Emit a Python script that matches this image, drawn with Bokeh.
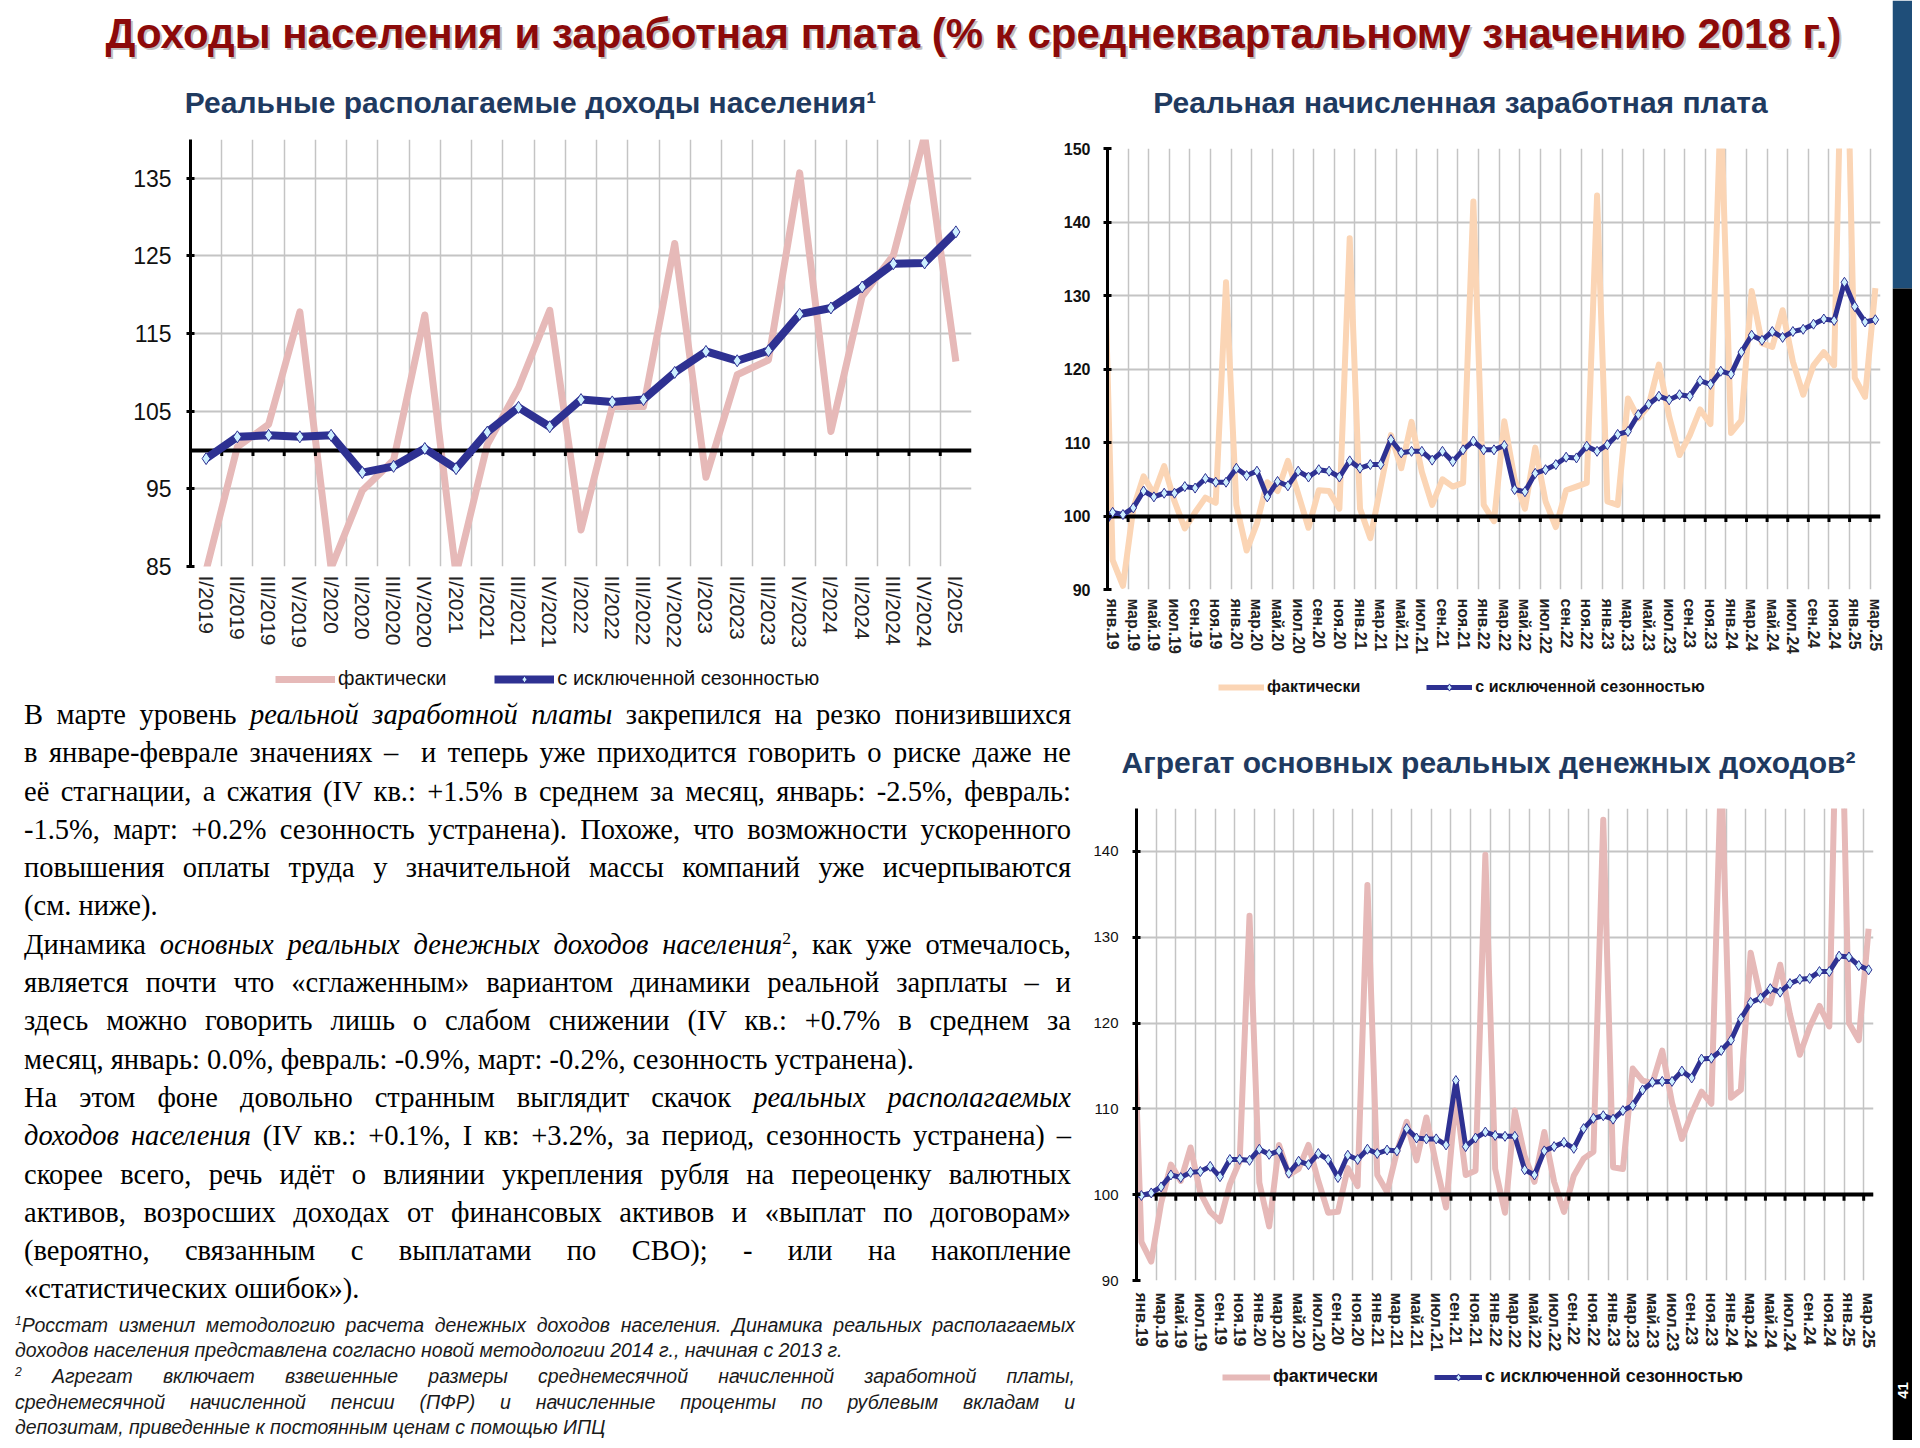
import math
from bokeh.plotting import figure
from bokeh.models import Range1d, FixedTicker, Legend, LegendItem, Div
from bokeh.layouts import row, column
from bokeh.embed import file_html
from bokeh.resources import INLINE
from bokeh.core.properties import value

SANS = "Liberation Sans"
SERIF = "Liberation Serif"

# ---------------- data ----------------
TITLE = "Доходы населения и заработная плата (% к среднеквартальному значению 2018 г.)"
T_LEFT = "Реальные располагаемые доходы населения¹"
T_RT = "Реальная начисленная заработная плата"
T_RB = "Агрегат основных реальных денежных доходов²"
LBL_ACT = "фактически"
LBL_SA = "с исключенной сезонностью"
BASE = 100

quarters = ["I/2019", "II/2019", "III/2019", "IV/2019", "I/2020", "II/2020", "III/2020", "IV/2020",
            "I/2021", "II/2021", "III/2021", "IV/2021", "I/2022", "II/2022", "III/2022", "IV/2022",
            "I/2023", "II/2023", "III/2023", "IV/2023", "I/2024", "II/2024", "III/2024", "IV/2024",
            "I/2025"]
rdi_actual = [84.5, 100.4, 103.3, 117.8, 84.8, 94.8, 98.7, 117.4, 84.0, 100.7, 108.0, 118.0, 89.7,
              105.6, 105.6, 126.6, 96.5, 109.7, 111.6, 135.7, 102.4, 119.8, 125.1, 140.5, 111.4]
rdi_sa = [98.9, 101.7, 101.9, 101.7, 101.9, 97.1, 97.9, 100.2, 97.6, 102.3, 105.5, 103.0, 106.5,
          106.2, 106.5, 110.0, 112.7, 111.5, 112.8, 117.5, 118.3, 121.0, 124.0, 124.1, 128.1]

month_labels = ["янв.19", "мар.19", "май.19", "июл.19", "сен.19", "ноя.19",
                "янв.20", "мар.20", "май.20", "июл.20", "сен.20", "ноя.20",
                "янв.21", "мар.21", "май.21", "июл.21", "сен.21", "ноя.21",
                "янв.22", "мар.22", "май.22", "июл.22", "сен.22", "ноя.22",
                "янв.23", "мар.23", "май.23", "июл.23", "сен.23", "ноя.23",
                "янв.24", "мар.24", "май.24", "июл.24", "сен.24", "ноя.24",
                "янв.25", "мар.25"]
N_MONTHS = 75          # янв.19 ... мар.25
FIRST_MONTH = -1       # series start with дек.18 (only the segment up to the axis is visible)

wage_actual = [146.0,
               94.0, 90.5, 101.0, 105.4, 103.0, 106.8, 102.0, 98.3, 100.5, 102.5, 101.8, 131.8,
               101.5, 95.3, 99.0, 104.6, 103.4, 107.5, 103.0, 98.4, 103.5, 103.4, 101.0, 137.8,
               101.0, 97.0, 104.0, 111.0, 106.5, 112.8, 106.0, 101.5, 105.0, 104.0, 104.5, 142.8,
               101.5, 99.3, 112.9, 105.0, 101.0, 109.3, 102.0, 98.5, 103.5, 104.0, 104.5, 143.6,
               102.0, 101.5, 116.0, 113.3, 115.0, 120.6, 113.5, 108.3, 111.0, 114.5, 112.5, 156.0,
               111.3, 113.0, 130.6, 123.5, 123.0, 128.0, 121.0, 116.5, 120.5, 122.3, 120.5, 182.0,
               118.8, 116.2, 131.0]
wage_sa = [98.4,
           100.5, 100.2, 101.1, 103.4, 102.6, 103.1, 103.1, 104.0, 103.8, 105.1, 104.6, 104.6,
           106.5, 105.5, 106.1, 102.6, 104.7, 104.1, 106.1, 105.3, 106.3, 106.1, 105.3, 107.5,
           106.5, 107.0, 107.0, 110.4, 108.6, 108.8, 108.8, 107.6, 108.8, 107.4, 109.0, 110.2,
           109.0, 109.0, 109.6, 103.6, 103.3, 105.8, 106.3, 107.0, 108.0, 107.9, 109.5, 108.8,
           109.7, 111.1, 111.5, 113.8, 115.2, 116.3, 115.8, 116.5, 116.3, 118.4, 117.9, 119.7,
           119.3, 122.3, 124.6, 123.9, 125.1, 124.3, 125.1, 125.4, 126.1, 126.8, 126.6, 131.8,
           128.5, 126.4, 126.7]
agg_actual = [128.0,
              94.5, 92.2, 99.0, 103.5, 101.6, 105.5, 100.2, 98.0, 96.9, 101.2, 103.9, 132.5,
              101.4, 96.3, 105.8, 102.3, 103.0, 105.8, 101.6, 97.9, 98.0, 103.1, 101.0, 136.1,
              102.3, 100.3, 105.0, 108.5, 104.0, 109.0, 103.5, 98.5, 111.5, 102.3, 102.8, 139.6,
              103.0, 97.9, 109.8, 104.5, 101.5, 107.3, 101.5, 98.0, 102.2, 104.2, 105.0, 143.7,
              103.2, 103.0, 114.7, 113.3, 113.0, 116.8, 110.7, 106.5, 109.5, 112.0, 110.6, 150.0,
              111.3, 112.2, 128.2, 123.0, 122.3, 126.8, 121.0, 116.3, 119.5, 122.0, 119.6, 172.0,
              120.0, 118.0, 131.0]
agg_sa = [100.0,
          99.9, 100.2, 100.9, 102.3, 102.0, 102.6, 102.7, 103.3, 102.1, 104.1, 104.1, 104.0,
          105.3, 104.7, 105.1, 102.5, 103.9, 103.5, 104.8, 104.1, 102.0, 104.6, 104.1, 105.3,
          104.8, 105.2, 105.1, 107.7, 106.6, 106.5, 106.5, 105.8, 113.3, 105.6, 106.6, 107.3,
          106.9, 106.8, 106.8, 102.9, 102.3, 105.1, 105.6, 106.1, 105.4, 107.7, 108.9, 109.2,
          108.8, 109.8, 110.4, 112.2, 113.1, 113.2, 113.2, 114.4, 113.6, 115.8, 115.9, 116.8,
          118.0, 120.5, 122.4, 122.9, 124.0, 123.6, 124.6, 125.1, 125.2, 126.0, 126.0, 127.8,
          127.7, 126.7, 126.2]

# ---------------- styles ----------------
BLUE = "#2E3192"
DIAMOND_FILL = "#CDEFFF"
PINK = "#E6B9B8"
PEACH = "#FBD5B5"
GRID = "#C4C4C4"
TITLE_RED = "#8C0A0A"
NAVY = "#1F3A60"


def no_align(p):
    try:
        p.frame_align = False
    except Exception:
        pass


def make_chart(w, h, borders, n_cat, y_lo, y_hi, y_ticks, grid_ticks, label_ticks, labels,
               xs, actual, sa, act_color, act_width, sa_width, diamond,
               ylab_size, ylab_style, ylab_standoff, xlab_size, xlab_style, xlab_standoff):
    left, right, top, bottom = borders
    p = figure(width=w, height=h, x_range=Range1d(0, n_cat), y_range=Range1d(y_lo, y_hi),
               min_border_left=left, min_border_right=right,
               min_border_top=top, min_border_bottom=bottom,
               output_backend="svg", toolbar_location=None, tools="")
    no_align(p)
    p.outline_line_color = None
    p.background_fill_color = "white"
    p.border_fill_color = "white"

    p.xgrid.ticker = FixedTicker(ticks=grid_ticks)
    p.xgrid.grid_line_color = GRID
    p.xgrid.grid_line_width = 1.5
    p.ygrid.ticker = FixedTicker(ticks=y_ticks)
    p.ygrid.grid_line_color = GRID
    p.ygrid.grid_line_width = 2

    ya = p.yaxis[0]
    ya.ticker = FixedTicker(ticks=y_ticks)
    ya.axis_line_color = "black"
    ya.axis_line_width = 3
    ya.major_tick_line_color = "black"
    ya.major_tick_line_width = 3
    ya.major_tick_in = 4
    ya.major_tick_out = 4
    ya.minor_tick_line_color = None
    ya.major_label_standoff = ylab_standoff
    ya.major_label_text_font = SANS
    ya.major_label_text_font_size = ylab_size
    ya.major_label_text_font_style = ylab_style
    ya.major_label_text_color = "#111111"

    xa = p.xaxis[0]
    xa.ticker = FixedTicker(ticks=label_ticks)
    xa.major_label_overrides = {t: s for t, s in zip(label_ticks, labels)}
    xa.major_label_orientation = "vertical"
    xa.axis_line_color = None
    xa.major_tick_line_color = None
    xa.minor_tick_line_color = None
    xa.major_tick_out = 0
    xa.major_tick_in = 0
    xa.major_label_standoff = xlab_standoff
    xa.major_label_text_font = SANS
    xa.major_label_text_font_size = xlab_size
    xa.major_label_text_font_style = xlab_style
    xa.major_label_text_color = "#222222"

    p.line(xs, actual, line_color=act_color, line_width=act_width, line_join="round")
    p.hspan(y=[BASE], line_color="black", line_width=4)
    frame_h = h - top - bottom
    d = 6.0 * (y_hi - y_lo) / frame_h
    p.segment(x0=grid_ticks, y0=[BASE] * len(grid_ticks), x1=grid_ticks,
              y1=[BASE - d] * len(grid_ticks), line_color="black", line_width=3)
    p.line(xs, sa, line_color=BLUE, line_width=sa_width, line_join="round")
    p.scatter(xs, sa, marker="diamond", size=diamond, fill_color=DIAMOND_FILL,
              line_color=BLUE, line_width=1)
    return p


def blank(w, h):
    p = figure(width=w, height=h, x_range=Range1d(0, w), y_range=Range1d(h, 0),
               x_axis_type=None, y_axis_type=None, min_border=0,
               output_backend="svg", toolbar_location=None, tools="")
    no_align(p)
    p.grid.visible = False
    p.outline_line_color = None
    p.background_fill_color = "white"
    p.border_fill_color = "white"
    return p


def legend_strip(w, h, act_color, act_width, sa_width, diamond, loc, size, style, glyph_w, spacing):
    """Legend of a chart, placed in its own strip under the chart's axis labels.
    The proxy renderers hold one point outside the strip so only the legend shows them."""
    p = blank(w, h)
    off = [-50, -40]
    act = p.line(x=off, y=off, line_color=act_color, line_width=act_width)
    sa_line = p.line(x=off, y=off, line_color=BLUE, line_width=sa_width)
    sa_pts = p.scatter(x=off[:1], y=off[:1], marker="diamond", size=diamond,
                       fill_color=DIAMOND_FILL, line_color=BLUE, line_width=1)
    leg = Legend(items=[LegendItem(label=LBL_ACT, renderers=[act]),
                        LegendItem(label=LBL_SA, renderers=[sa_line, sa_pts])],
                 location=loc, orientation="horizontal",
                 padding=0, margin=0, spacing=spacing, glyph_width=glyph_w,
                 glyph_height=18, label_height=18, label_standoff=3,
                 label_text_font=SANS, label_text_font_size=size,
                 label_text_font_style=style, label_text_color="#111111",
                 border_line_color=None, background_fill_alpha=0)
    p.add_layout(leg)
    return p


def put_text(p, x, y, s, size, color, style="bold", font=SANS, align="center", angle=0, alpha=1.0):
    p.text(x=[x], y=[y], text=[s], text_font=value(font), text_font_size=value(size),
           text_font_style=style, text_color=color, text_alpha=alpha, text_align=align,
           text_baseline="middle", angle=angle)


# ---------------- header ----------------
hdr = blank(1892, 130)
put_text(hdr, 975, 35, TITLE, "42px", "#777777", alpha=0.45)
put_text(hdr, 973, 33, TITLE, "42px", TITLE_RED)
put_text(hdr, 530, 102, T_LEFT, "30px", NAVY)
put_text(hdr, 1460, 102, T_RT, "30px", NAVY)

# ---------------- left chart (quarterly) ----------------
qx = [i + 0.5 for i in range(len(quarters))]
left_fig = make_chart(
    1060, 538, (190, 89, 9, 102), len(quarters), 85, 140, [85, 95, 105, 115, 125, 135],
    list(range(1, len(quarters))), qx, quarters,
    qx, rdi_actual, rdi_sa, PINK, 7, 8, 12,
    "23px", "normal", 15, "21px", "normal", 9)
left_leg = legend_strip(1060, 28, PINK, 7, 8, 12, (275, 6), "20px", "normal", 60, 48)

# ---------------- monthly charts ----------------
mx = [FIRST_MONTH + i + 0.5 for i in range(len(wage_sa))]
m_grid = list(range(2, N_MONTHS, 2))
m_lab_ticks = [2 * k + 0.5 for k in range(len(month_labels))]

rt_fig = make_chart(
    832, 542, (45, 12, 18, 83), N_MONTHS, 90, 150, [90, 100, 110, 120, 130, 140, 150],
    m_grid, m_lab_ticks, month_labels,
    mx, wage_actual, wage_sa, PEACH, 6, 5, 10,
    "16px", "bold", 13, "16px", "bold", 9)
rt_leg = legend_strip(832, 24, PEACH, 6, 5, 10, (158, 0), "16px", "bold", 46, 66)

rb_head = blank(802, 84)
put_text(rb_head, 398, 66, T_RB, "30px", NAVY)

rb_fig = make_chart(
    802, 584, (46, 19, 28, 84), N_MONTHS, 90, 145, [90, 100, 110, 120, 130, 140],
    m_grid, m_lab_ticks, month_labels,
    mx, agg_actual, agg_sa, PINK, 6, 5, 10,
    "15px", "normal", 14, "17px", "bold", 12)
rb_leg = legend_strip(802, 76, PINK, 6, 5, 10, (132, 53), "18px", "bold", 48, 56)

# ---------------- text block ----------------
SUP = "<sup style='font-size:0.62em;line-height:0'>{}</sup>"
body = [
    ("В марте уровень <i>реальной заработной платы</i> закрепился на резко понизившихся", True),
    ("в январе-феврале значениях –&nbsp; и теперь уже приходится говорить о риске даже не", True),
    ("её стагнации, а сжатия (IV кв.: +1.5% в среднем за месяц, январь: -2.5%, февраль:", True),
    ("-1.5%, март: +0.2% сезонность устранена). Похоже, что возможности ускоренного", True),
    ("повышения оплаты труда у значительной массы компаний уже исчерпываются", True),
    ("(см. ниже).", False),
    ("Динамика <i>основных реальных денежных доходов населения</i>" + SUP.format(2) + ", как уже отмечалось,", True),
    ("является почти что «сглаженным» вариантом динамики реальной зарплаты – и", True),
    ("здесь можно говорить лишь о слабом снижении (IV кв.: +0.7% в среднем за", True),
    ("месяц, январь: 0.0%, февраль: -0.9%, март: -0.2%, сезонность устранена).", False),
    ("На этом фоне довольно странным выглядит скачок <i>реальных располагаемых</i>", True),
    ("<i>доходов населения</i> (IV кв.: +0.1%, I кв: +3.2%, за период, сезонность устранена) –", True),
    ("скорее всего, речь идёт о влиянии укрепления рубля на переоценку валютных", True),
    ("активов, возросших доходах от финансовых активов и «выплат по договорам»", True),
    ("(вероятно, связанным с выплатами по СВО); - или на накопление", True),
    ("«статистических ошибок»).", False),
]
notes = [
    (SUP.format(1) + "Росстат изменил методологию расчета денежных доходов населения. Динамика реальных располагаемых", True),
    ("доходов населения представлена согласно новой методологии 2014 г., начиная с 2013 г.", False),
    (SUP.format(2) + " Агрегат включает взвешенные размеры среднемесячной начисленной заработной платы,", True),
    ("среднемесячной начисленной пенсии (ПФР) и начисленные проценты по рублевым вкладам и", True),
    ("депозитам, приведенные к постоянным ценам с помощью ИПЦ", False),
]


def lines_html(items):
    out = []
    for html, just in items:
        if just:
            st = "text-align:justify;text-align-last:justify;white-space:nowrap;"
        else:
            st = "text-align:left;white-space:nowrap;"
        out.append(f'<div style="{st}">{html}</div>')
    return "".join(out)


text_html = (
    "<div style=\"margin:0 0 0 24px;width:1047px;font-family:'Liberation Serif',serif;"
    "font-size:28.5px;line-height:38.3px;color:#000;\">" + lines_html(body) + "</div>"
    "<div style=\"margin:4px 0 0 15px;width:1060px;font-family:'Liberation Sans',sans-serif;"
    "font-style:italic;font-size:19.5px;line-height:25.6px;color:#1a1a1a;\">" + lines_html(notes) + "</div>"
)
text_div = Div(text=text_html, width=1090, height=744, margin=0)

# ---------------- side bar ----------------
side = blank(20, 1440)
side.quad(left=[0], right=[20], top=[0], bottom=[288], fill_color="#1F4E79", line_color=None)
side.quad(left=[0], right=[20], top=[288], bottom=[1440], fill_color="black", line_color=None)
put_text(side, 10, 1390, "41", "15px", "white", angle=math.pi / 2)

layout = row(
    column(hdr,
           row(column(left_fig, left_leg), column(rt_fig, rt_leg)),
           row(text_div, column(rb_head, rb_fig, rb_leg))),
    side,
)

open("out.html", "w").write(file_html(layout, INLINE))
